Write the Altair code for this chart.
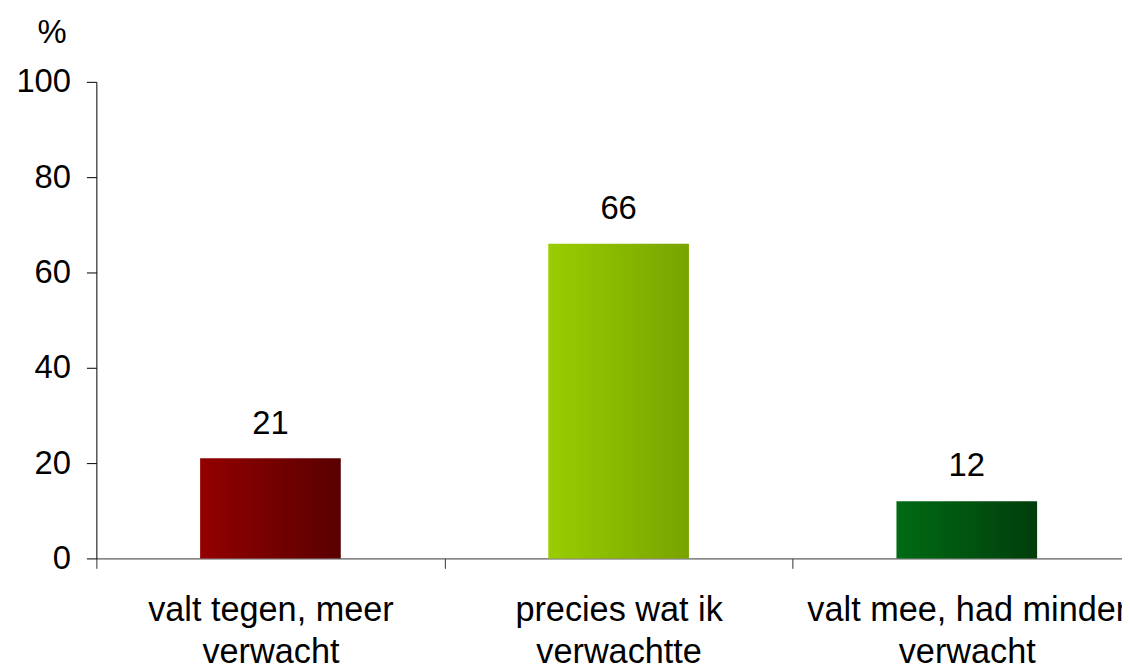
import altair as alt
import pandas as pd

categories = ["valt tegen, meer\nverwacht", "precies wat ik\nverwachtte", "valt mee, had minder\nverwacht"]
values = [21, 66, 12]
left_colors = ["#930000", "#9acd00", "#006b14"]
right_colors = ["#590000", "#78a300", "#003d0b"]
y_ticks = [0, 20, 40, 60, 80, 100]

df = pd.DataFrame({"cat": categories, "v": values})

FONT = "Liberation Sans"

x_enc = alt.X(
    "cat:N",
    sort=categories,
    scale=alt.Scale(domain=categories, range=[0, 1052], paddingInner=0, paddingOuter=0),
    axis=alt.Axis(
        title=None, labelAngle=0, tickBand="extent", tickSize=10, labelPadding=26,
        labelExpr="datum.value ? split(datum.value, '\\n') : ''", labelFontSize=34.5,
        labelLineHeight=42, labelFont=FONT, labelColor="#000000",
        domainColor="#333333", tickColor="#333333", labelLimit=0, grid=False,
    ),
)
y_enc = alt.Y(
    "v:Q",
    scale=alt.Scale(domain=[0, 100]),
    axis=alt.Axis(
        values=y_ticks, title="%", titleAngle=0, titleX=-45, titleY=-50,
        titleAlign="center", titleBaseline="middle", titleFontSize=33,
        titleFontWeight="normal", titleFont=FONT, titleColor="#000000",
        tickSize=10, labelPadding=16, labelFontSize=33, labelFont=FONT,
        labelColor="#000000", domainColor="#000000", tickColor="#000000", grid=False,
    ),
)

layers = []
for i, c in enumerate(categories):
    grad = alt.Gradient(
        gradient="linear",
        stops=[alt.GradientStop(color=left_colors[i], offset=0),
               alt.GradientStop(color=right_colors[i], offset=1)],
        x1=0, x2=1, y1=0, y2=0,
    )
    layers.append(
        alt.Chart(df).transform_filter(alt.datum.cat == c)
        .mark_bar(color=grad, width=alt.RelativeBandSize(0.404))
        .encode(x=x_enc, y=y_enc)
    )

text = alt.Chart(df).mark_text(
    dy=-25, baseline="alphabetic", fontSize=33, font=FONT, color="#000000"
).encode(x=x_enc, y=y_enc, text="v:Q")

chart = alt.layer(*layers, text).properties(
    width=1033, height=480,
    autosize=alt.AutoSizeParams(type="none"),
    padding={"left": 89, "top": 72, "right": 0, "bottom": 107},
).configure_view(stroke=None)

chart.save("out.html", embed_options={"renderer": "svg", "actions": False})
